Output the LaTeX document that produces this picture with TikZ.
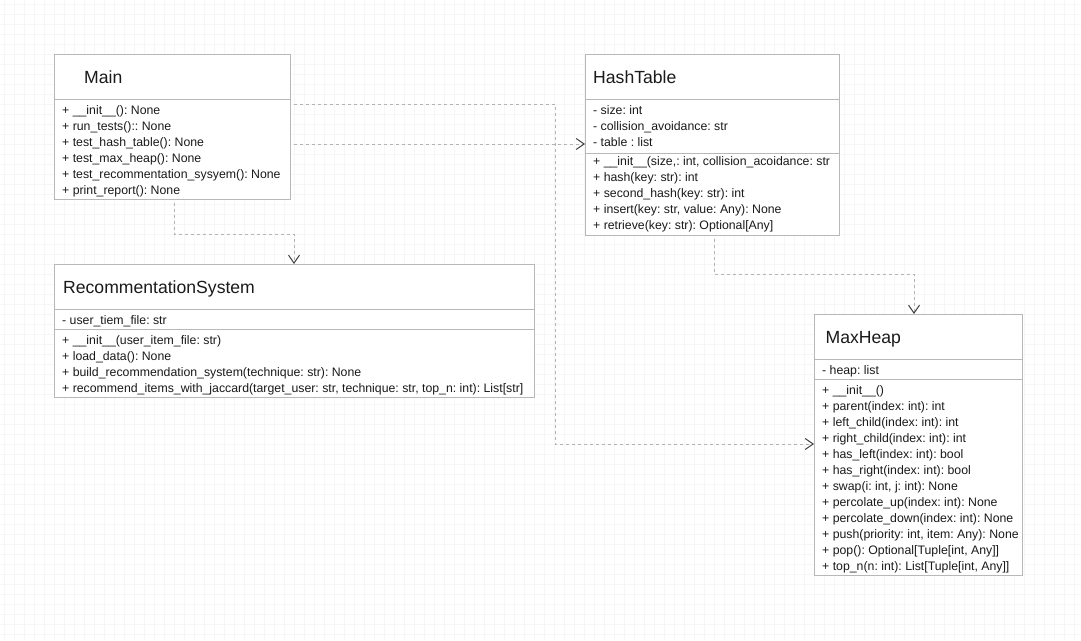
\documentclass[tikz,border=0pt]{standalone}
\usepackage{fontspec}
\setmainfont{Liberation Sans}
\usetikzlibrary{arrows.meta,calc}
\definecolor{gridc}{HTML}{F6F6F6}
\definecolor{boxc}{HTML}{B8B8B8}
\definecolor{linec}{HTML}{B3B3B3}
\definecolor{txt}{HTML}{1A1A1A}
\definecolor{tipc}{HTML}{404040}
\frenchspacing
\begin{document}
\begin{tikzpicture}[x=1pt,y=-1pt,
  umlbox/.style={draw=boxc, line width=1pt, fill=white, inner sep=0pt, anchor=north west},
  ttl/.style={anchor=west, inner sep=0pt, text height=12.7pt, text depth=0pt, font=\fontsize{17.6}{20}\selectfont, text=txt},
  mem/.style={anchor=west, inner sep=0pt, text height=8.7pt, text depth=0pt, font=\fontsize{12.3}{14}\selectfont\frenchspacing, text=txt},
  sepline/.style={draw=boxc, line width=1pt},
  dep/.style={draw=linec, line width=1pt, dash pattern=on 3pt off 3pt,
    -{Straight Barb[length=8pt,width=11pt,color=tipc,line width=1pt]}}]
\useasboundingbox (0,0) rectangle (1081,640);
\fill[white] (0,0) rectangle (1081,640);
\foreach \g in {4,14,...,1080} \draw[gridc, line width=0.9pt] (\g,0) -- (\g,640);
\foreach \g in {4,14,...,640} \draw[gridc, line width=0.9pt] (0,\g) -- (1081,\g);

% Main
\node[umlbox, minimum width=236pt, minimum height=145pt] (main) at (54,54) {};
\draw[sepline] ($(main.north west)+(0,45)$) -- ($(main.north east)+(0,45)$);
\node[ttl] (mainT) at (84,77.5) {Main};
\foreach \t [count=\i] in {{+ \_\_init\_\_(): None},{+ run\_tests():: None},{+ test\_hash\_table(): None},{+ test\_max\_heap(): None},{+ test\_recommentation\_sysyem(): None},{+ print\_report(): None}}
  \node[mem] (mainM\i) at (62,{110+16*(\i-1)}) {\t};

% HashTable
\node[umlbox, minimum width=254pt, minimum height=181pt] (ht) at (585,54) {};
\draw[sepline] ($(ht.north west)+(0,45)$) -- ($(ht.north east)+(0,45)$);
\draw[sepline] ($(ht.north west)+(0,99)$) -- ($(ht.north east)+(0,99)$);
\node[ttl] (htT) at (593,77.5) {HashTable};
\foreach \t [count=\i] in {{- size: int},{- collision\_avoidance: str},{- table : list}}
  \node[mem] (htA\i) at (593,{110+16*(\i-1)}) {\t};
\foreach \t [count=\i] in {{+ \_\_init\_\_(size,: int, collision\_acoidance: str},{+ hash(key: str): int},{+ second\_hash(key: str): int},{+ insert(key: str, value: Any): None},{+ retrieve(key: str): Optional[Any]}}
  \node[mem] (htM\i) at (593,{161.5+16*(\i-1)}) {\t};

% RecommentationSystem
\node[umlbox, minimum width=480pt, minimum height=133pt] (rs) at (54,264) {};
\draw[sepline] ($(rs.north west)+(0,45)$) -- ($(rs.north east)+(0,45)$);
\draw[sepline] ($(rs.north west)+(0,65)$) -- ($(rs.north east)+(0,65)$);
\node[ttl] (rsT) at (63,287.5) {RecommentationSystem};
\node[mem] (rsA1) at (62,320) {- user\_tiem\_file: str};
\foreach \t [count=\i] in {{+ \_\_init\_\_(user\_item\_file: str)},{+ load\_data(): None},{+ build\_recommendation\_system(technique: str): None},{+ recommend\_items\_with\_jaccard(target\_user: str, technique: str, top\_n: int): List[str]}}
  \node[mem] (rsM\i) at (62,{340+16*(\i-1)}) {\t};

% MaxHeap
\node[umlbox, minimum width=208pt, minimum height=261pt] (mh) at (814,314) {};
\draw[sepline] ($(mh.north west)+(0,45)$) -- ($(mh.north east)+(0,45)$);
\draw[sepline] ($(mh.north west)+(0,65)$) -- ($(mh.north east)+(0,65)$);
\node[ttl] (mhT) at (825.5,337.5) {MaxHeap};
\node[mem] (mhA1) at (822,370) {- heap: list};
\foreach \t [count=\i] in {{+ \_\_init\_\_()},{+ parent(index: int): int},{+ left\_child(index: int): int},{+ right\_child(index: int): int},{+ has\_left(index: int): bool},{+ has\_right(index: int): bool},{+ swap(i: int, j: int): None},{+ percolate\_up(index: int): None},{+ percolate\_down(index: int): None},{+ push(priority: int, item: Any): None},{+ pop(): Optional[Tuple[int, Any]]},{+ top\_n(n: int): List[Tuple[int, Any]]}}
  \node[mem] (mhM\i) at (822,{390+16*(\i-1)}) {\t};

% connectors
\coordinate (s1) at (294,144);
\draw[dep] (s1) -- (s1 -| ht.west);

\coordinate (s2) at (294,104);
\coordinate (b2a) at (555,104);
\coordinate (b2b) at (555,444);
\draw[dep] (s2) -- (b2a) -- (b2b) -- (b2b -| mh.west);

\coordinate (s3) at (174,203);
\coordinate (b3a) at (174,234);
\coordinate (b3b) at (294,234);
\draw[dep] (s3) -- (b3a) -- (b3b) -- (b3b |- rs.north);

\coordinate (s4) at (714,239);
\coordinate (b4a) at (714,274);
\coordinate (b4b) at (914,274);
\draw[dep] (s4) -- (b4a) -- (b4b) -- (b4b |- mh.north);
\end{tikzpicture}
\end{document}
